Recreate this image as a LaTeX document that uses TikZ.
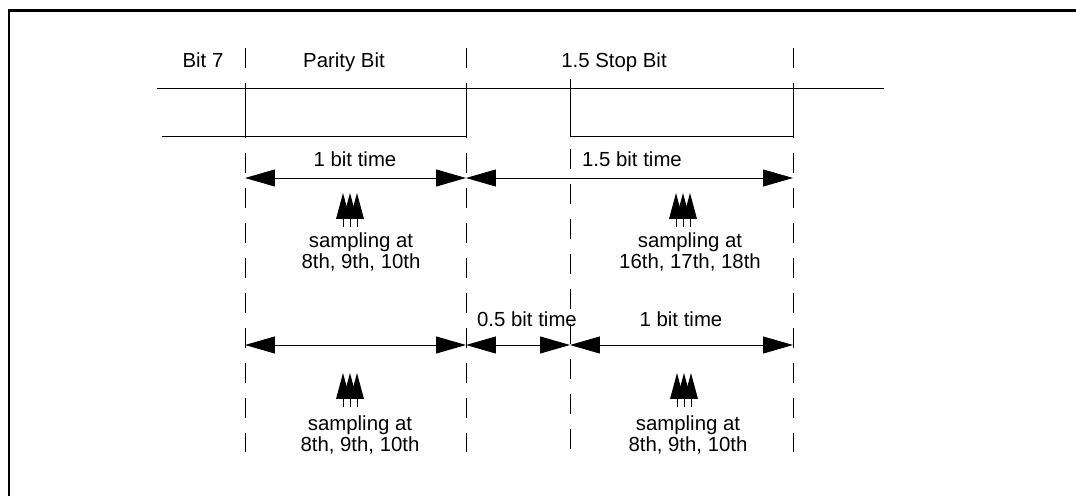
\documentclass[tikz,border=0pt]{standalone}
\usepackage{fontspec}
\setmainfont{Liberation Sans}
\usetikzlibrary{arrows.meta}

\begin{document}
\begin{tikzpicture}[
    x=0.02cm, y=-0.02cm,
    font=\fontsize{11.6}{12.5}\selectfont,
    every node/.style={inner sep=0pt},
    wave/.style={line width=0.5pt},
    bitline/.style={line width=0.55pt, dash pattern=on 0.4cm off 0.3cm},
    span/.style={line width=0.55pt,
      {Triangle[length=0.6cm,width=0.34cm]}-{Triangle[length=0.6cm,width=0.34cm]}},
    lbl/.style={anchor=base},
    note/.style={anchor=base, align=center},
    pics/sampler/.style={code={
      \foreach \dx in {-7,0,7} {
        \fill (\dx-7,26) -- (\dx,0) -- (\dx+7,26) -- cycle;
        \draw[line width=0.4pt] (\dx,26) -- (\dx,34);
      }}},
  ]

  \useasboundingbox (0,0) rectangle (1076,496);

  % === Frame (cut at right and bottom) ===
  \draw[line width=0.06cm] (9,496) -- (9,11) -- (1076,11);

  % === Bit boundaries ===
  \foreach \x in {245,466,793} {
    \draw[bitline] (\x,48) -- (\x,452);
  }
  \draw[bitline] (570,79) -- (570,452);

  % === Header labels ===
  \node[lbl] (bit7)   at (203,68) {Bit 7};
  \node[lbl] (parity) at (344,68) {Parity Bit};
  \node[lbl] (stop)   at (614,68) {1.5 Stop Bit};

  % === Signal ===
  \draw[wave] (157,88) -- (884,88);
  \draw[wave] (162,136) -- (466,136) -- (466,88);
  \draw[wave] (245,88) -- (245,136);
  \draw[wave] (570,88) -- (570,136) -- (793,136) -- (793,88);

  % === Row 1: 1 + 1.5 bit time ===
  \coordinate (a0) at (245,178);
  \coordinate (a1) at (466,178);
  \coordinate (a2) at (793,178);
  \draw[span] (a0) -- (a1);
  \draw[span] (a1) -- (a2);
  \node[lbl] (onebit)  at (355,167) {1 bit time};
  \node[lbl] (halfbit) at (632,167) {1.5 bit time};

  \pic at (350,193) {sampler};
  \pic at (683,193) {sampler};
  \node[note] (sampA) at (361,269) {sampling at\\8th, 9th, 10th};
  \node[note] (sampB) at (690,269) {sampling at\\16th, 17th, 18th};

  % === Row 2: 1 + 0.5 + 1 bit time ===
  \coordinate (b0) at (245,345);
  \coordinate (b1) at (466,345);
  \coordinate (b2) at (570,345);
  \coordinate (b3) at (793,345);
  \draw[span] (b0) -- (b1);
  \draw[span] (b1) -- (b2);
  \draw[span] (b2) -- (b3);
  \node[lbl] (zerofive) at (527,327) {0.5 bit time};
  \node[lbl] (onebitB)  at (681,327) {1 bit time};

  \pic at (350,373) {sampler};
  \pic at (684,373) {sampler};
  \node[note] (sampC) at (360,452) {sampling at\\8th, 9th, 10th};
  \node[note] (sampD) at (688,452) {sampling at\\8th, 9th, 10th};

\end{tikzpicture}
\end{document}
